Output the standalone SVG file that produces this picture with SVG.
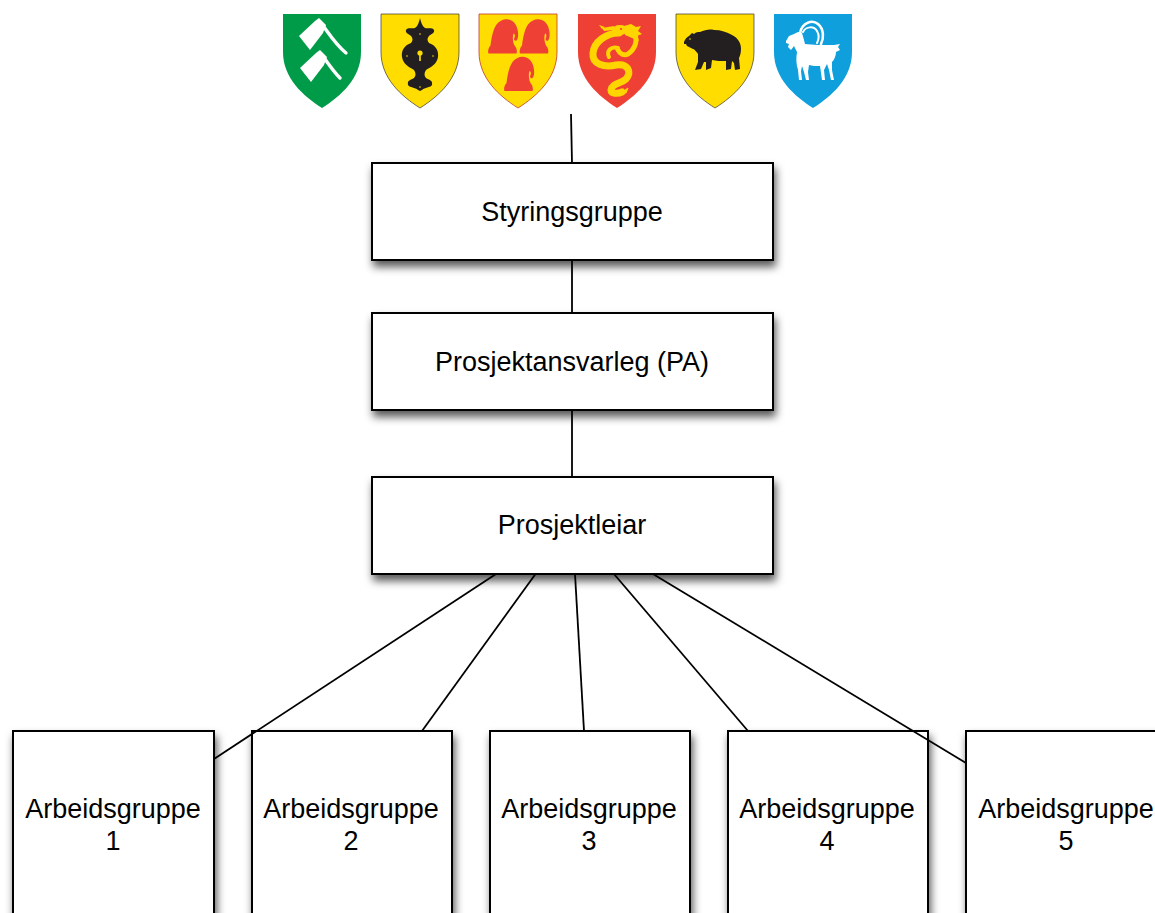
<svg xmlns="http://www.w3.org/2000/svg" width="1155" height="913" viewBox="0 0 1155 913">
<defs>
<style>
.box{fill:#fff;stroke:#000;stroke-width:2;filter:url(#sh)}
.lbl{font-family:"Liberation Sans",Arial,Helvetica,sans-serif;font-size:27px;fill:#000;text-anchor:middle}
.con{stroke:#000;stroke-width:1.8;fill:none}
</style>
<filter id="sh" x="-10%" y="-10%" width="130%" height="140%">
<feDropShadow dx="2" dy="6" stdDeviation="4" flood-color="#000" flood-opacity="0.65"/>
</filter>
<path id="shield" d="M0,0 H78 V38 C78,64 58,82 39,94 C20,82 0,64 0,38 Z"/>
<path id="cap" d="M1,35 C0,33 1,29 3,27 C4,20 5,12 9,6 C12,2 17,0 21,1 C26,2 29,6 30,11 C31,15 31,20 29,22 C27,23 26,21 27,19 C28,17 27,15 26,15 C25,18 25,23 27,27 C29,29 30,33 29,35 Z"/>
</defs>
<rect width="1155" height="913" fill="#fff"/>

<g id="shields">
<g id="shield1" transform="translate(283,14)">
<use href="#shield" fill="#009B48"/>
<g fill="#fff">
<path d="M16,22 L32,7 L36,4 L43,11 L40,19 L27,36 Z"/>
<path d="M38,9 C45,18 52,30 63,39" stroke="#fff" stroke-width="3.4" fill="none" stroke-linecap="round"/>
<path d="M17,54 L33,39 L37,36 L44,43 L41,51 L28,68 Z"/>
<path d="M39,41 C45,49 50,57 57,64" stroke="#fff" stroke-width="3.4" fill="none" stroke-linecap="round"/>
</g>
</g>
<g id="shield2" transform="translate(381,14)">
<use href="#shield" fill="#FFDD00" stroke="#333" stroke-width="0.7"/>
<path fill="#231F20" d="M39,4 C40,8 41,12 44,14 C47,15 51,13 53,16 C54,19 50,20 48,22 C46,24 46,27 48,29 C54,31 58,36 57,43 C56,50 50,53 45,56 C43,59 43,62 45,64 C48,66 52,66 51,71 C49,74 44,73 41,76 L39,77 L37,76 C34,73 29,74 27,71 C26,66 30,66 33,64 C35,62 35,59 33,56 C28,53 22,50 21,43 C20,36 24,31 30,29 C32,27 32,24 30,22 C28,20 24,19 25,16 C27,13 31,15 34,14 C37,12 38,8 39,4 Z"/>
<g fill="#FFDD00">
<circle cx="39" cy="39" r="2.6"/>
<rect x="38.2" y="39" width="1.6" height="8"/>
<circle cx="39" cy="20" r="0.8"/>
<circle cx="26" cy="42" r="0.8"/>
<circle cx="52" cy="42" r="0.8"/>
<circle cx="39" cy="73" r="0.8"/>
</g>
</g>
<g id="shield3" transform="translate(479,14)">
<use href="#shield" fill="#FFDD00" stroke="#C0392B" stroke-width="0.8"/>
<g fill="#EE4035">
<use href="#cap" x="8.5" y="4.5"/>
<use href="#cap" x="40" y="4.5"/>
<use href="#cap" x="24.5" y="42"/>
</g>
</g>
<g id="shield4" transform="translate(578,14)">
<use href="#shield" fill="#EE4035"/>
<g fill="#FFD500" stroke="#FFD500">
<path d="M41,19 C28,19 16,28 15,39 C14,50 26,54 38,51 C50,49 54,58 48,65 C43,70 34,69 33,76 C33,80 40,80 44,78" fill="none" stroke-width="7" stroke-linecap="round"/>
<path d="M57,21 C60,28 56,36 50,40 C46,42 42,40 40,36" fill="none" stroke-width="5" stroke-linecap="round"/>
<path d="M40,34 C33,32 28,37 31,43" fill="none" stroke-width="4" stroke-linecap="round"/>
<path d="M44,78 L50,74 L48,79 Z" stroke-width="1"/>
<ellipse cx="42" cy="16" rx="8" ry="5" stroke="none"/>
<path d="M24,14 L36,12 L36,16 L26,17 Z" stroke="none"/>
<path d="M21,11 L27,13 L24,15 Z" stroke="none"/>
<path d="M46,12 L53,10 L58,13 L63,12 L60,17 L64,20 L59,22 L61,27 L54,24 L47,21 Z" stroke="none"/>
</g>
<circle cx="43" cy="15" r="1" fill="#EE4035"/>
</g>
<g id="shield5" transform="translate(676,14)">
<use href="#shield" fill="#FFDD00" stroke="#333" stroke-width="0.7"/>
<path fill="#231F20" d="M8,28 C9,25 11,23 13,22 L16,19 L18,20 C20,18 22,18 24,18 C29,16 33,15 38,16 C45,16 51,18 56,21 C62,24 65,29 65,35 C65,39 64,42 63,44 L64,55 L59,56 L58,49 L56,47 L55,55 L50,56 L50,47 C45,47 40,47 36,46 L35,54 L30,56 L30,48 L28,48 L25,55 L19,56 L22,48 C22,45 22,42 22,40 C20,37 18,35 17,35 C15,34 13,33 11,32 L10,30 L8,30 Z"/>
<circle cx="14" cy="25" r="0.8" fill="#FFDD00"/>
</g>
<g id="shield6" transform="translate(774,14)">
<use href="#shield" fill="#0E9FDC"/>
<g fill="#fff">
<path d="M12,27 L15,22 L20,20 L24,18 L28,19 L30,26 L31,30 C38,31 50,31 60,31 L66,30 L64,33 L66,36 L62,38 C62,42 60,46 58,48 L58,56 L60,66 L57,66 L55,56 L53,50 L50,56 L51,66 L48,66 L46,52 C42,52 38,52 35,51 L34,58 L35,66 L32,66 L30,58 L28,52 L27,57 L28,66 L25,66 L24,56 C22,50 22,44 23,38 L20,32 L17,36 L14,33 L15,30 L12,29 Z"/>
<path d="M26,19 C28,9 38,5 44,10 C50,15 50,24 47,30" fill="none" stroke="#fff" stroke-width="2.6" stroke-linecap="round"/>
<path d="M29,18 C32,12 40,12 43,17 C46,22 44,27 43,29" fill="none" stroke="#fff" stroke-width="2" stroke-linecap="round"/>
</g>
</g>
</g>

<g id="node-styringsgruppe">
<rect class="box" x="372" y="163" width="401" height="97"/>
<text class="lbl" x="572" y="221">Styringsgruppe</text>
</g>
<g id="node-prosjektansvarleg">
<rect class="box" x="372" y="313" width="401" height="97"/>
<text class="lbl" x="572" y="371">Prosjektansvarleg (PA)</text>
</g>
<g id="node-prosjektleiar">
<rect class="box" x="372" y="477" width="401" height="97"/>
<text class="lbl" x="572" y="534">Prosjektleiar</text>
</g>
<g id="node-ag1">
<rect class="box" x="13" y="731" width="201" height="210"/>
<text class="lbl" x="113" y="818">Arbeidsgruppe</text>
<text class="lbl" x="113" y="850">1</text>
</g>
<g id="node-ag2">
<rect class="box" x="252" y="731" width="200" height="210"/>
<text class="lbl" x="351" y="818">Arbeidsgruppe</text>
<text class="lbl" x="351" y="850">2</text>
</g>
<g id="node-ag3">
<rect class="box" x="490" y="731" width="200" height="210"/>
<text class="lbl" x="589" y="818">Arbeidsgruppe</text>
<text class="lbl" x="589" y="850">3</text>
</g>
<g id="node-ag4">
<rect class="box" x="728" y="731" width="200" height="210"/>
<text class="lbl" x="827" y="818">Arbeidsgruppe</text>
<text class="lbl" x="827" y="850">4</text>
</g>
<g id="node-ag5">
<rect class="box" x="966" y="731" width="201" height="210"/>
<text class="lbl" x="1066" y="818">Arbeidsgruppe</text>
<text class="lbl" x="1066" y="850">5</text>
</g>

<g id="connectors" class="con">
<line x1="571" y1="114" x2="572" y2="163"/>
<line x1="572" y1="260" x2="572" y2="313"/>
<line x1="572" y1="410" x2="572" y2="477"/>
<line x1="496" y1="574" x2="214" y2="759"/>
<line x1="535.5" y1="574" x2="422" y2="731"/>
<line x1="575" y1="574" x2="584" y2="731"/>
<line x1="614" y1="574" x2="748" y2="731"/>
<line x1="653" y1="574" x2="966" y2="763"/>
</g>
</svg>
